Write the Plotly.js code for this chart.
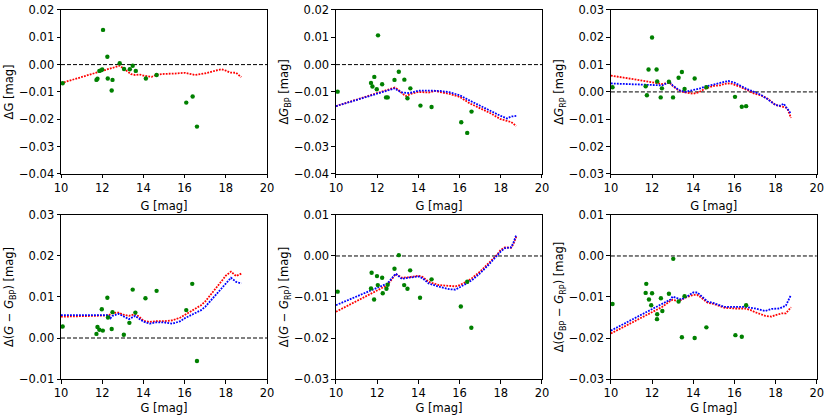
<!DOCTYPE html>
<html>
<head>
<meta charset="utf-8">
<script src="https://cdn.plot.ly/plotly-3.0.1.min.js"></script>
<style>html,body{margin:0;padding:0;background:#fff;}#chart{width:830px;height:415px;}</style>
</head>
<body>
<div id="chart"></div>
<script>
// ---------- Panel 1: ΔG ----------
const p1RedX = [10.0, 10.5, 11.0, 11.5, 12.0, 12.4, 12.7, 12.85, 13.0, 13.2, 13.4, 13.6, 13.8, 14.0, 14.2, 14.4, 14.6, 15.0, 15.5, 16.0, 16.5, 17.0, 17.5, 17.8, 18.0, 18.2, 18.5, 18.75];
const p1RedY = [-0.0068, -0.0057, -0.0045, -0.0034, -0.0023, -0.0013, -0.0006, -0.0004, -0.0012, -0.0025, -0.0035, -0.0038, -0.0036, -0.0040, -0.0043, -0.0045, -0.0038, -0.0034, -0.0033, -0.0030, -0.0038, -0.0032, -0.0022, -0.0017, -0.0022, -0.0029, -0.0030, -0.0046];
const p1GreenX = [10.08, 11.72, 11.77, 11.86, 11.94, 12.0, 12.04, 12.25, 12.27, 12.46, 12.5, 12.85, 13.06, 13.34, 13.48, 13.63, 14.12, 14.64, 16.08, 16.39, 16.6];
const p1GreenY = [-0.0068, -0.0056, -0.0052, -0.0023, -0.0021, -0.0018, 0.0127, 0.0029, -0.0051, -0.0095, -0.0056, 0.0005, -0.0016, -0.0017, -0.0004, -0.0023, -0.0051, -0.0038, -0.0139, -0.0117, -0.0227];

// ---------- Panel 2: ΔG_BP ----------
const p2BlueX = [10, 12.8, 12.85, 13.0, 13.2, 13.5, 13.7, 14.0, 14.2, 14.5, 14.8, 15.0, 15.5, 16.0, 16.5, 17.0, 17.5, 18.0, 18.3, 18.5, 18.75];
const p2BlueY = [-0.0152, -0.0090, -0.0087, -0.0095, -0.0102, -0.0104, -0.0102, -0.0095, -0.0095, -0.0097, -0.0095, -0.0096, -0.0101, -0.0112, -0.0132, -0.0151, -0.0170, -0.0188, -0.0197, -0.0190, -0.0188];
const p2RedX = [10, 12.8, 12.85, 13.0, 13.2, 13.4, 13.6, 14.0, 14.5, 14.8, 15.0, 15.5, 16.0, 16.5, 17.0, 17.5, 18.0, 18.3, 18.5, 18.75];
const p2RedY = [-0.0152, -0.0088, -0.0084, -0.0090, -0.0105, -0.0115, -0.0108, -0.0100, -0.0102, -0.0096, -0.0100, -0.0107, -0.0118, -0.0142, -0.0160, -0.0178, -0.0200, -0.0207, -0.0210, -0.0225];
const p2GreenX = [10.08, 11.70, 11.77, 11.86, 11.98, 12.04, 12.24, 12.43, 12.51, 12.84, 13.05, 13.32, 13.47, 13.61, 14.1, 14.64, 16.08, 16.37, 16.58];
const p2GreenY = [-0.0099, -0.0067, -0.0080, -0.0045, -0.0090, 0.0107, -0.0072, -0.0120, -0.0120, -0.0056, -0.0026, -0.0055, -0.0123, -0.0087, -0.0150, -0.0155, -0.0211, -0.0250, -0.0172];

// ---------- Panel 3: ΔG_RP ----------
const p3RedX = [10, 12.5, 12.85, 13.0, 13.3, 13.6, 14.0, 14.3, 14.6, 15.0, 15.3, 15.5, 15.8, 16.0, 16.3, 16.6, 17.0, 17.3, 17.6, 18.0, 18.3, 18.5, 18.6, 18.75];
const p3RedY = [0.0060, 0.0029, 0.0034, 0.0022, 0.0005, -0.0002, -0.0007, 0.0, 0.0013, 0.0022, 0.0024, 0.0029, 0.0032, 0.0027, 0.0018, 0.0007, -0.0007, -0.0013, -0.0024, -0.0048, -0.0055, -0.0057, -0.0066, -0.0095];
const p3BlueX = [10, 12.5, 12.85, 13.0, 13.3, 13.6, 14.0, 14.3, 14.6, 15.0, 15.3, 15.7, 16.0, 16.3, 16.6, 17.0, 17.3, 17.6, 18.0, 18.2, 18.4, 18.5, 18.75];
const p3BlueY = [0.0031, 0.0024, 0.0037, 0.0024, 0.0007, 0.0, 0.0007, 0.0012, 0.0020, 0.0028, 0.0034, 0.0040, 0.0034, 0.0022, 0.0011, -0.0001, -0.0011, -0.0026, -0.0048, -0.0051, -0.0043, -0.0054, -0.0080];
const p3GreenX = [10.08, 11.69, 11.75, 11.83, 12.0, 12.22, 12.25, 12.42, 12.48, 12.82, 13.02, 13.29, 13.45, 13.58, 14.07, 14.64, 16.03, 16.36, 16.57];
const p3GreenY = [0.0017, 0.0021, -0.0012, 0.0082, 0.0199, 0.0082, 0.0038, -0.0020, 0.0013, 0.0037, -0.0020, 0.0052, 0.0073, 0.0011, 0.0049, 0.0017, -0.0018, -0.0054, -0.0052];

// ---------- Panel 4: Δ(G − G_BP) ----------
const p4BlueX = [10, 12.3, 12.4, 12.5, 12.8, 13.0, 13.3, 13.6, 13.8, 14.0, 14.3, 14.6, 15.0, 15.4, 15.8, 16.0, 16.4, 16.8, 17.0, 17.4, 17.8, 18.0, 18.25, 18.5, 18.75];
const p4BlueY = [0.0056, 0.0056, 0.0048, 0.0054, 0.0059, 0.0054, 0.0046, 0.0054, 0.0048, 0.0040, 0.0035, 0.0038, 0.0038, 0.0035, 0.0041, 0.0048, 0.0058, 0.0068, 0.0076, 0.0098, 0.0120, 0.0133, 0.0147, 0.0137, 0.0133];
const p4RedX = [10, 12.3, 12.5, 12.8, 13.0, 13.3, 13.6, 13.8, 14.0, 14.3, 14.6, 15.0, 15.4, 15.8, 16.0, 16.4, 16.8, 17.0, 17.4, 17.8, 18.0, 18.25, 18.5, 18.75];
const p4RedY = [0.0052, 0.0055, 0.0061, 0.0062, 0.0057, 0.0054, 0.0058, 0.0052, 0.0042, 0.0039, 0.0041, 0.0041, 0.0043, 0.0050, 0.0056, 0.0067, 0.0080, 0.0089, 0.0113, 0.0139, 0.0152, 0.0162, 0.0151, 0.0157];
const p4GreenX = [10.08, 11.72, 11.77, 11.86, 11.98, 12.03, 12.25, 12.28, 12.46, 12.5, 13.05, 13.32, 13.48, 13.61, 14.1, 14.64, 16.08, 16.37, 16.6];
const p4GreenY = [0.0028, 0.0010, 0.0027, 0.0020, 0.0070, 0.0018, 0.0098, 0.0050, 0.0022, 0.0063, 0.0008, 0.0037, 0.0118, 0.0062, 0.0097, 0.0115, 0.0068, 0.0132, -0.0056];

// ---------- Panel 5: Δ(G − G_RP) ----------
const p5CurveX = [10, 12.5, 12.9, 13.2, 13.5, 14.0, 14.2, 14.5, 15.0, 15.5, 15.8, 16.0, 16.3, 16.6, 17.0, 17.4, 17.8, 18.0, 18.2, 18.5, 18.6, 18.75];
const p5BlueY = [-0.0120, -0.0067, -0.0043, -0.0056, -0.0053, -0.0050, -0.0054, -0.0067, -0.0075, -0.0081, -0.0082, -0.0077, -0.0068, -0.0059, -0.0042, -0.0022, 0.0, 0.0011, 0.0019, 0.0021, 0.0031, 0.0051];
const p5RedY = [-0.0136, -0.0071, -0.0044, -0.0053, -0.0052, -0.0048, -0.0051, -0.0063, -0.0071, -0.0072, -0.0074, -0.0071, -0.0064, -0.0054, -0.0038, -0.0018, 0.0002, 0.0015, 0.0021, 0.0020, 0.0028, 0.0047];
const p5GreenX = [10.08, 11.70, 11.73, 11.85, 11.99, 12.03, 12.24, 12.27, 12.45, 12.51, 12.84, 13.05, 13.31, 13.47, 13.6, 14.08, 14.64, 16.06, 16.37, 16.57];
const p5GreenY = [-0.0087, -0.0079, -0.0041, -0.0106, -0.0049, -0.0071, -0.0053, -0.0091, -0.0080, -0.0070, -0.0031, 0.0002, -0.0071, -0.0080, -0.0035, -0.0102, -0.0057, -0.0123, -0.0063, -0.0175];

// ---------- Panel 6: Δ(G_BP − G_RP) ----------
const p6BlueX = [10, 12.5, 12.9, 13.0, 13.2, 13.4, 13.7, 14.0, 14.2, 14.4, 14.7, 15.0, 15.5, 16.0, 16.5, 17.0, 17.5, 17.8, 18.2, 18.5, 18.6, 18.75];
const p6BlueY = [-0.0182, -0.0116, -0.0106, -0.0099, -0.0103, -0.0106, -0.0099, -0.0089, -0.0089, -0.0097, -0.0111, -0.0115, -0.0124, -0.0124, -0.0124, -0.0128, -0.0134, -0.0129, -0.0128, -0.0121, -0.0111, -0.0095];
const p6RedX = [10, 12.5, 12.9, 13.0, 13.3, 13.6, 14.0, 14.2, 14.4, 14.7, 15.0, 15.5, 16.0, 16.5, 16.8, 17.0, 17.5, 17.8, 18.0, 18.3, 18.5, 18.75];
const p6RedY = [-0.0189, -0.0124, -0.0109, -0.0107, -0.0110, -0.0102, -0.0095, -0.0095, -0.0102, -0.0114, -0.0117, -0.0126, -0.0128, -0.0128, -0.0132, -0.0137, -0.0146, -0.0148, -0.0144, -0.0140, -0.0140, -0.0125];
const p6GreenX = [10.08, 11.69, 11.72, 11.85, 11.96, 12.0, 12.24, 12.25, 12.43, 12.5, 12.82, 13.03, 13.29, 13.45, 13.58, 14.07, 14.64, 16.05, 16.36, 16.57];
const p6GreenY = [-0.0117, -0.0090, -0.0068, -0.0106, -0.0120, -0.0091, -0.0154, -0.0142, -0.0103, -0.0134, -0.0092, -0.0007, -0.0111, -0.0198, -0.0098, -0.0200, -0.0174, -0.0193, -0.0197, -0.0120];

// ---------- Axis texts ----------
const xTicks = [10, 12, 14, 16, 18, 20];
const xTitle = "G [mag]";
const yTitles = [
  "ΔG [mag]",
  "Δ<i>G</i><sub>BP</sub> [mag]",
  "Δ<i>G</i><sub>RP</sub> [mag]",
  "Δ(<i>G</i> − <i>G</i><sub>BP</sub>) [mag]",
  "Δ(<i>G</i> − <i>G</i><sub>RP</sub>) [mag]",
  "Δ(<i>G</i><sub>BP</sub> − <i>G</i><sub>RP</sub>) [mag]"
];
const yRanges = [[-0.04, 0.02], [-0.04, 0.02], [-0.03, 0.03], [-0.01, 0.03], [-0.03, 0.01], [-0.03, 0.01]];

// ---------- Build ----------
const RED = '#ff0000', BLUE = '#0000ff', GREEN = '#008000';
const panels = [
  {curves: [[p1RedX, p1RedY, RED]], gx: p1GreenX, gy: p1GreenY},
  {curves: [[p2RedX, p2RedY, RED], [p2BlueX, p2BlueY, BLUE]], gx: p2GreenX, gy: p2GreenY},
  {curves: [[p3RedX, p3RedY, RED], [p3BlueX, p3BlueY, BLUE]], gx: p3GreenX, gy: p3GreenY},
  {curves: [[p4RedX, p4RedY, RED], [p4BlueX, p4BlueY, BLUE]], gx: p4GreenX, gy: p4GreenY},
  {curves: [[p5CurveX, p5RedY, RED], [p5CurveX, p5BlueY, BLUE]], gx: p5GreenX, gy: p5GreenY},
  {curves: [[p6RedX, p6RedY, RED], [p6BlueX, p6BlueY, BLUE]], gx: p6GreenX, gy: p6GreenY}
];

const xDomains = [[0.0735, 0.3217], [0.4048, 0.653], [0.736, 0.984]];
const yDomains = [[0.581, 0.976], [0.0867, 0.482]];
const FONT = 'DejaVu Sans, sans-serif';
const TICKSIZE = 11.5, TITLESIZE = 11.5;

const traces = [];
const shapes = [];
const layout = {
  width: 830, height: 415,
  margin: {l: 0, r: 0, t: 0, b: 0},
  paper_bgcolor: '#fff', plot_bgcolor: '#fff',
  showlegend: false,
  font: {family: FONT, size: TICKSIZE, color: '#000'}
};

panels.forEach((p, i) => {
  const n = i + 1;
  const xa = n === 1 ? 'x' : 'x' + n;
  const ya = n === 1 ? 'y' : 'y' + n;
  p.curves.forEach(c => {
    traces.push({
      x: c[0], y: c[1], xaxis: xa, yaxis: ya, type: 'scatter', mode: 'lines',
      line: {color: c[2], width: 1.8, dash: '1.8px,1.2px'}, hoverinfo: 'skip'
    });
  });
  traces.push({
    x: p.gx, y: p.gy, xaxis: xa, yaxis: ya, type: 'scatter', mode: 'markers',
    marker: {color: GREEN, size: 4.4, line: {width: 0}}, hoverinfo: 'skip'
  });
  shapes.push({
    type: 'line', xref: xa + ' domain', yref: ya, x0: 0, x1: 1, y0: 0, y1: 0,
    line: {color: '#000', width: 1, dash: '4px,2px'}, layer: 'below'
  });
  const col = i % 3, row = Math.floor(i / 3);
  const axCommon = {
    showline: true, mirror: true, linecolor: '#000', linewidth: 1,
    ticks: 'outside', ticklen: 3.5, tickwidth: 1, tickcolor: '#000',
    showgrid: false, zeroline: false,
    tickfont: {family: FONT, size: TICKSIZE, color: '#000'}
  };
  layout['xaxis' + (n === 1 ? '' : n)] = Object.assign({}, axCommon, {
    domain: xDomains[col], anchor: ya, range: [10, 20],
    tickvals: xTicks, ticktext: xTicks.map(String),
    title: {text: xTitle, font: {family: FONT, size: TITLESIZE, color: '#000'}, standoff: 7}
  });
  layout['yaxis' + (n === 1 ? '' : n)] = Object.assign({}, axCommon, {
    domain: yDomains[row], anchor: xa, range: yRanges[i],
    dtick: 0.01, tick0: 0, tickformat: '.2f',
    title: {text: yTitles[i], font: {family: FONT, size: TITLESIZE, color: '#000'}, standoff: 2}
  });
});
layout.shapes = shapes;

Plotly.newPlot('chart', traces, layout, {staticPlot: true, displayModeBar: false});
</script>
</body>
</html>
